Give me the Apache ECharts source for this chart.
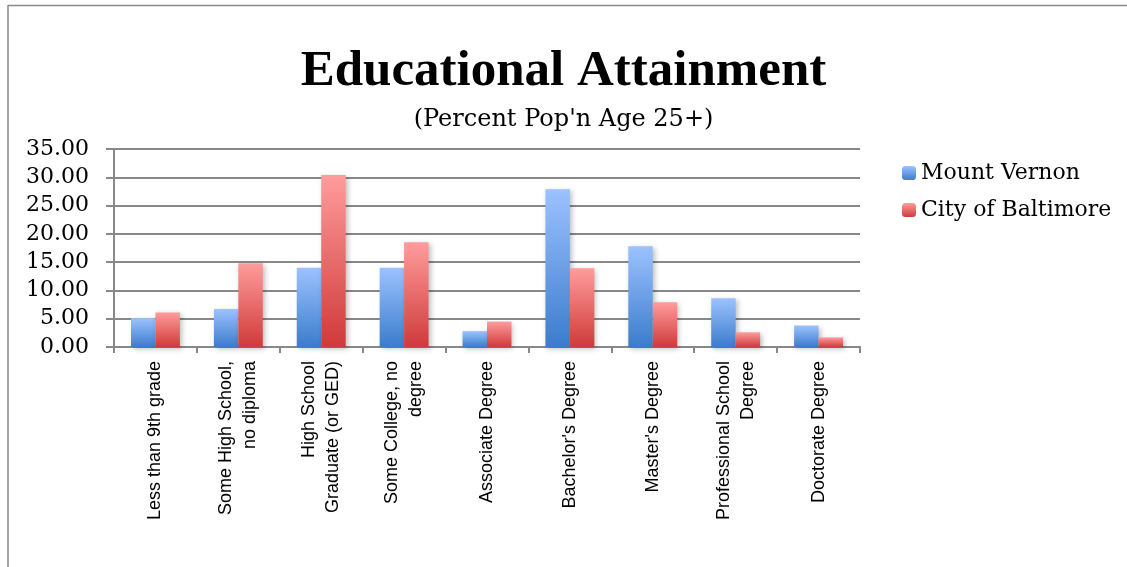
<!DOCTYPE html>
<html><head><meta charset="utf-8">
<script src="https://cdn.jsdelivr.net/npm/echarts@6/dist/echarts.min.js"></script>
<style>html,body{margin:0;padding:0;background:#fff}#c{width:1127px;height:567px}</style>
</head><body><div id="c"></div>
<script>
const categories = ['Less than 9th grade','Some High School,\nno diploma','High School\nGraduate (or GED)','Some College, no\ndegree','Associate Degree',"Bachelor's Degree","Master's Degree",'Professional School\nDegree','Doctorate Degree'];
const mountVernon = [5.1, 6.7, 14.0, 14.0, 2.8, 27.9, 17.8, 8.6, 3.8];
const cityOfBaltimore = [6.1, 14.8, 30.4, 18.5, 4.5, 13.9, 7.9, 2.6, 1.7];
const seriesNames = ['Mount Vernon', 'City of Baltimore'];

const chart = echarts.init(document.getElementById('c'));
const grad = (top, bottom) => new echarts.graphic.LinearGradient(0,0,0,1,[{offset:0,color:top},{offset:1,color:bottom}]);
const serif = 'DejaVu Serif';
chart.setOption({
  backgroundColor: '#fff',
  animation: false,
  title: [{
    text: 'Educational Attainment', left: 'center', top: 41,
    textStyle: {fontFamily: 'Liberation Serif', fontWeight: 'bold', fontSize: 51, color: '#000'}
  }, {
    text: "(Percent Pop'n Age 25+)", left: 'center', top: 103,
    textStyle: {fontFamily: serif, fontWeight: 'normal', fontSize: 24, color: '#000'}
  }],
  legend: {
    orient: 'vertical', left: 897, top: 157, itemWidth: 14, itemHeight: 14, itemGap: 15,
    textStyle: {fontFamily: serif, fontSize: 22, color: '#000'},
    data: seriesNames
  },
  grid: {left: 114, right: 267, top: 149, bottom: 220, containLabel: false},
  xAxis: {
    type: 'category', data: categories,
    axisLine: {lineStyle: {color: '#888', width: 2}},
    axisTick: {show: true, length: 6, lineStyle: {color: '#888', width: 2}},
    axisLabel: {rotate: 90, interval: 0, margin: 14, fontFamily: 'Liberation Sans', fontSize: 18, lineHeight: 24, color: '#000'}
  },
  yAxis: {
    type: 'value', min: 0, max: 35, interval: 5,
    axisLine: {show: true, lineStyle: {color: '#888', width: 2}},
    axisTick: {show: true, length: 8, lineStyle: {color: '#888', width: 2}},
    splitLine: {lineStyle: {color: '#888', width: 2}},
    axisLabel: {margin: 25, fontFamily: serif, fontSize: 22, color: '#000', formatter: v => v.toFixed(2)}
  },
  series: [{
    name: seriesNames[0], type: 'bar', data: mountVernon, barGap: '0%', barCategoryGap: '41%',
    itemStyle: {color: grad('#9cc2ff', '#3b7ccc'), shadowColor: 'rgba(0,0,0,0.25)', shadowBlur: 5, shadowOffsetX: 2, shadowOffsetY: 2}
  }, {
    name: seriesNames[1], type: 'bar', data: cityOfBaltimore,
    itemStyle: {color: grad('#ff9c9c', '#cf3a3a'), shadowColor: 'rgba(0,0,0,0.25)', shadowBlur: 5, shadowOffsetX: 2, shadowOffsetY: 2}
  }],
  graphic: [
    {type: 'line', shape: {x1: 8, y1: 5.5, x2: 1127, y2: 5.5}, style: {stroke: '#888', lineWidth: 1.5}},
    {type: 'line', shape: {x1: 8, y1: 5, x2: 8, y2: 567}, style: {stroke: '#888', lineWidth: 1.5}}
  ]
});
</script></body></html>
